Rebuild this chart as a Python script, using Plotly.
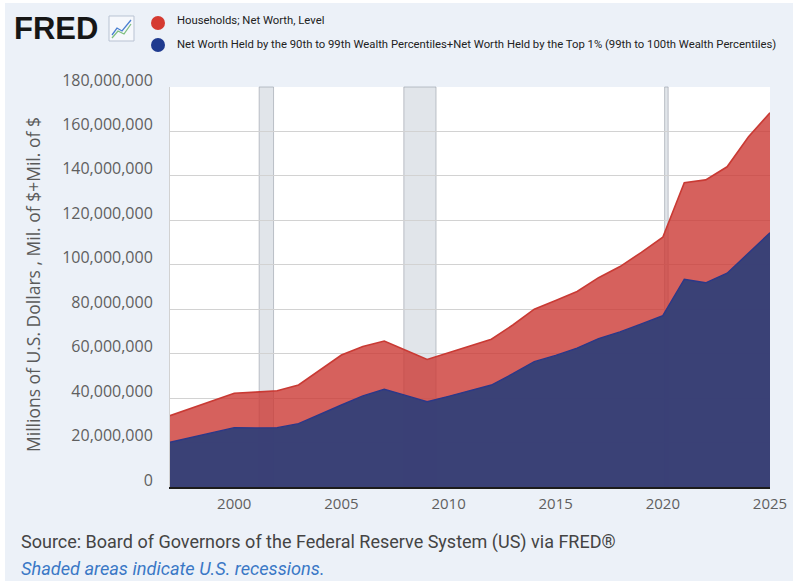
import plotly.graph_objects as go

# ---- data (millions of US dollars) ----
years = list(range(1997, 2026))
households_net_worth = [
    32.1, 35.5, 38.9, 42.2, 42.7, 43.3, 45.9, 52.7, 59.4, 63.2,
    65.7, 61.5, 57.4, 60.4, 63.4, 66.5, 72.9, 80.0, 83.9, 88.0,
    94.2, 99.2, 105.6, 112.4, 136.9, 138.2, 144.1, 157.6, 168.4,
]
top10_net_worth = [
    20.1, 22.3, 24.5, 26.7, 26.6, 26.7, 28.5, 32.8, 36.9, 41.0,
    44.0, 41.2, 38.4, 40.8, 43.3, 45.9, 51.0, 56.4, 59.2, 62.5,
    66.8, 69.8, 73.4, 77.1, 93.5, 91.9, 96.2, 105.2, 114.4,
]
recession_starts = ["2001-03-01", "2007-12-01", "2020-02-01"]
recession_ends = ["2001-11-01", "2009-06-01", "2020-04-01"]

series_names = [
    "Households; Net Worth, Level",
    "Net Worth Held by the 90th to 99th Wealth Percentiles+Net Worth Held by the Top 1% (99th to 100th Wealth Percentiles)",
]
y_title = "Millions of U.S. Dollars , Mil. of $+Mil. of $"
source_text = "Source: Board of Governors of the Federal Reserve System (US) via FRED®"
note_text = "Shaded areas indicate U.S. recessions."

dates = [f"{y}-01-01" for y in years]
hh = [v * 1e6 for v in households_net_worth]
top = [v * 1e6 for v in top10_net_worth]

W, H = 800, 588
L, R, T, B = 170, 30, 87, 101
PW, PH = W - L - R, H - T - B


def px_x(px):
    return (px - L) / PW


def px_y(py):
    return (H - B - py) / PH


fig = go.Figure()
fig.add_trace(go.Scatter(
    x=dates, y=hh, mode="lines", fill="tozeroy",
    line=dict(color="#c93a34", width=1.6),
    fillcolor="rgba(204,58,53,0.80)", name=series_names[0], showlegend=False,
))
fig.add_trace(go.Scatter(
    x=dates, y=top, mode="lines", fill="tozeroy",
    line=dict(color="#2b3888", width=1.4),
    fillcolor="rgba(46,62,120,0.93)", name=series_names[1], showlegend=False,
))

shapes = []
for s, e in zip(recession_starts, recession_ends):
    shapes.append(dict(
        type="rect", xref="x", yref="paper", x0=s, x1=e, y0=0, y1=1,
        fillcolor="rgba(200,207,217,0.55)",
        line=dict(color="rgba(150,156,166,0.6)", width=1), layer="between",
    ))

# white outer border around the light panel
for (x0, y0, x1, y1) in [(0, 0, 800, 3), (0, 581, 800, 588), (0, 0, 5, 588), (793, 0, 800, 588)]:
    shapes.append(dict(type="rect", xref="paper", yref="paper",
                       x0=px_x(x0), x1=px_x(x1), y0=px_y(y0), y1=px_y(y1),
                       fillcolor="white", line=dict(width=0), layer="above"))

# legend circles
for cy, col in [(23, "#d53a31"), (45, "#1f3a8f")]:
    shapes.append(dict(type="circle", xref="paper", yref="paper",
                       xsizemode="pixel", ysizemode="pixel",
                       xanchor=px_x(158), yanchor=px_y(cy),
                       x0=-7, x1=7, y0=-7, y1=7,
                       fillcolor=col, line=dict(width=0)))

# FRED icon
shapes.append(dict(type="rect", xref="paper", yref="paper",
                   x0=px_x(109), x1=px_x(134), y0=px_y(41), y1=px_y(16),
                   fillcolor="#f6f8fc", line=dict(color="#b9c3d3", width=1)))


def path_from(points):
    p = "M " + " L ".join(f"{px_x(a):.5f},{px_y(b):.5f}" for a, b in points)
    return p


shapes.append(dict(type="path", xref="paper", yref="paper",
                   path=path_from([(112, 35), (117, 28), (122, 31), (131, 20)]),
                   line=dict(color="#4a7fd0", width=1.3)))
shapes.append(dict(type="path", xref="paper", yref="paper",
                   path=path_from([(112, 38), (118, 31), (124, 34), (131, 24)]),
                   line=dict(color="#7fbf7f", width=1.3)))

annotations = [
    dict(text="<b>FRED</b>", xref="paper", yref="paper", x=px_x(12), y=px_y(29),
         xanchor="left", yanchor="middle", showarrow=False,
         font=dict(family="Liberation Sans", size=31, color="#161616")),
    dict(text=series_names[0], xref="paper", yref="paper", x=px_x(175), y=px_y(21),
         xanchor="left", yanchor="middle", showarrow=False,
         font=dict(family="Roboto", size=11.3, color="#222222")),
    dict(text=series_names[1], xref="paper", yref="paper", x=px_x(175), y=px_y(44),
         xanchor="left", yanchor="middle", showarrow=False,
         font=dict(family="Roboto", size=11.3, color="#222222")),
    dict(text=y_title, xref="paper", yref="paper", x=px_x(33), y=px_y(285),
         xanchor="center", yanchor="middle", textangle=-90, showarrow=False,
         font=dict(family="Open Sans", size=17.5, color="#5a5a5a")),
    dict(text=source_text, xref="paper", yref="paper", x=px_x(19), y=px_y(542),
         xanchor="left", yanchor="middle", showarrow=False,
         font=dict(family="Roboto", size=18, color="#444444")),
    dict(text="<i>" + note_text + "</i>", xref="paper", yref="paper", x=px_x(19), y=px_y(568),
         xanchor="left", yanchor="middle", showarrow=False,
         font=dict(family="Roboto", size=18.2, color="#3a78c6")),
]

fig.update_layout(
    width=W, height=H,
    margin=dict(l=L, r=R, t=T, b=B, pad=0),
    paper_bgcolor="#ecf1f8",
    plot_bgcolor="white",
    showlegend=False,
    shapes=shapes,
    annotations=annotations,
    xaxis=dict(
        type="date", range=["1997-01-01", "2025-01-01"],
        tick0="2000-01-01", dtick="M60", tickformat="%Y",
        showgrid=False, zeroline=False,
        showline=True, linecolor="#1c1c1c", linewidth=2,
        ticks="", ticklabelstandoff=2,
        tickfont=dict(family="Open Sans", size=15, color="#5f5f5f"),
    ),
    yaxis=dict(
        range=[0, 180e6], dtick=20e6, tickformat=",d",
        showgrid=True, gridcolor="#d2d2d2", gridwidth=1,
        zeroline=False, showline=True, linecolor="#d2d2d2", linewidth=1,
        ticks="", ticklabelstandoff=13, ticklabelshift=-7,
        tickfont=dict(family="Open Sans", size=16, color="#5f5f5f"),
    ),
)

fig.write_html(
    "out.html",
    config={"displayModeBar": False},
    post_script="document.body.style.margin='0';document.body.style.overflow='hidden';",
)
